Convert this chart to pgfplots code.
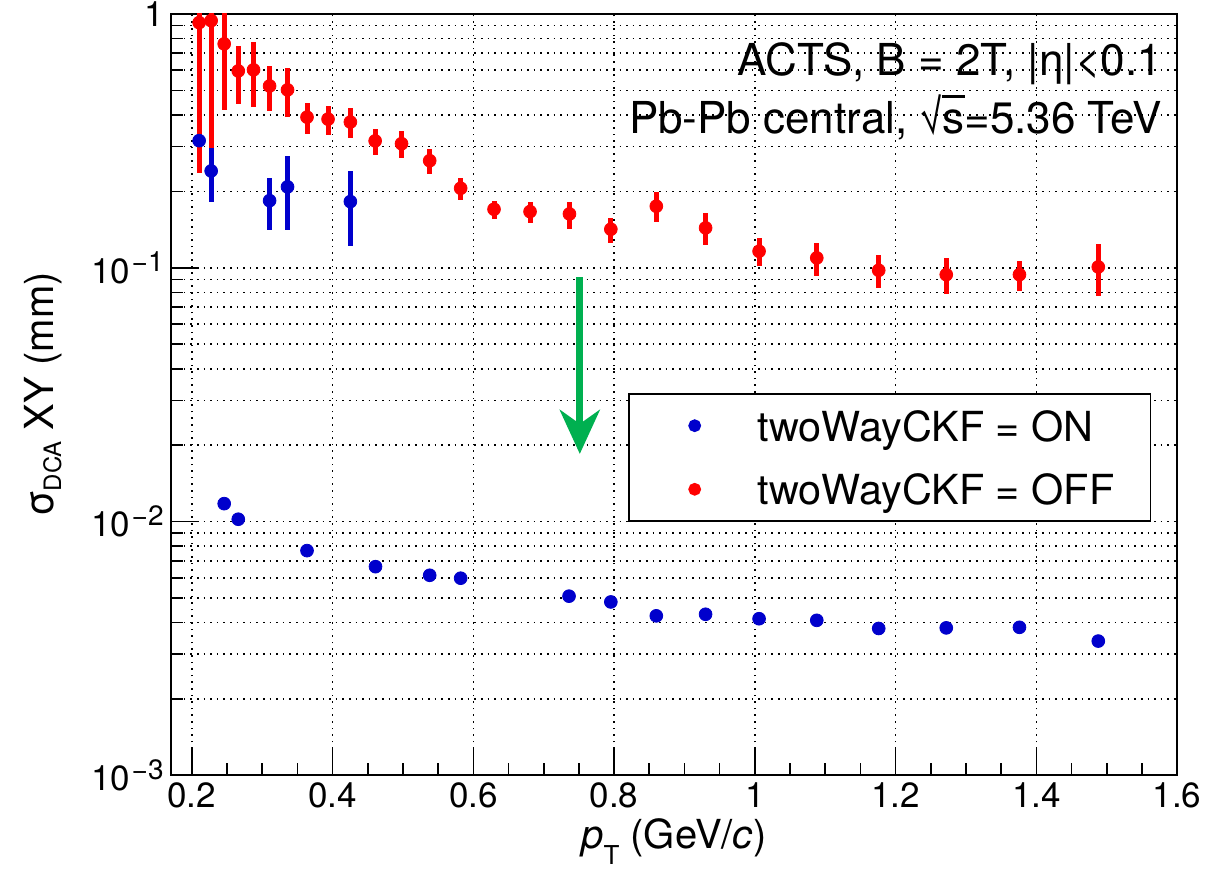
\documentclass[border=0pt]{standalone}
\usepackage{fontspec}
\setmainfont{TeX Gyre Heros}
\usepackage{pgfplots}
\usepackage{pgfplotstable}
\pgfplotsset{compat=1.18}
\usetikzlibrary{arrows.meta}
\definecolor{rootred}{RGB}{255,0,0}
\definecolor{rootblue}{RGB}{0,0,204}
\definecolor{rootgreen}{RGB}{0,176,80}
\newcommand{\sups}[1]{\kern0.05em\raisebox{5.8pt}{\fontsize{14}{14}\selectfont −#1}}
\newcommand{\sqrts}{\setbox0\hbox{√}\copy0\kern-0.03em\rlap{\rule[\dimexpr\ht0-0.07em\relax]{0.52em}{0.07em}}s}

\pgfplotstableread{
x y ep em
0.2104 0.924 0.576 0.687
0.2275 0.941 0.559 0.644
0.2460 0.762 0.738 0.344
0.2660 0.596 0.154 0.154
0.2877 0.602 0.171 0.173
0.3105 0.520 0.106 0.104
0.3360 0.502 0.109 0.110
0.3637 0.392 0.055 0.055
0.3936 0.385 0.050 0.051
0.4253 0.375 0.051 0.051
0.4605 0.316 0.037 0.0385
0.4980 0.308 0.038 0.037
0.5380 0.264 0.0305 0.030
0.5820 0.2056 0.021 0.0206
0.6294 0.170 0.0138 0.015
0.6806 0.1664 0.0153 0.0166
0.7366 0.1629 0.0188 0.0211
0.7954 0.1418 0.0149 0.0162
0.8600 0.1747 0.0236 0.0236
0.9300 0.1435 0.0204 0.0205
1.0060 0.1161 0.0146 0.0145
1.0880 0.1093 0.0163 0.0165
1.1760 0.0977 0.0143 0.0142
1.2720 0.0939 0.0154 0.0148
1.3760 0.0939 0.0128 0.0127
1.4880 0.1007 0.0238 0.0235
}\offdata

\pgfplotstableread{
x y ep em
0.2104 0.3167 0 0
0.2275 0.2406 0.0564 0.0584
0.2460 0.01176 0 0
0.2660 0.01021 0 0
0.3105 0.1838 0.0415 0.0428
0.3360 0.2082 0.0683 0.0672
0.3637 0.00768 0 0
0.4253 0.1822 0.0584 0.0599
0.4610 0.00664 0 0
0.5380 0.00614 0 0
0.5820 0.00598 0 0
0.7360 0.00508 0 0
0.7954 0.00482 0 0
0.8600 0.00425 0 0
0.9300 0.00431 0 0
1.0060 0.00414 0 0
1.0880 0.00408 0 0
1.1760 0.00379 0 0
1.2720 0.00381 0 0
1.3760 0.00383 0 0
1.4880 0.00338 0 0
}\ondata

\begin{document}
\begin{tikzpicture}
\useasboundingbox (-85.35pt,-46.35pt) rectangle (521.65pt,387.65pt);
\begin{axis}[
  at={(0,0)}, anchor=south west,
  scale only axis, width=503.2pt, height=380.7pt,
  xmin=0.17, xmax=1.6, ymode=log, ymin=1e-3, ymax=1,
  xtick={0.2,0.4,0.6,0.8,1,1.2,1.4,1.6},
  minor x tick num=3,
  ytick={0.001,0.01,0.1,1},
  yticklabels={10\sups{3},10\sups{2},10\sups{1},1},
  minor ytick={0.002,0.003,0.004,0.005,0.006,0.007,0.008,0.009,0.02,0.03,0.04,0.05,0.06,0.07,0.08,0.09,0.2,0.3,0.4,0.5,0.6,0.7,0.8,0.9},
  tick pos=left, tick align=inside,
  major tick length=13pt, minor tick length=6pt,
  every tick/.append style={black, line width=0.8pt},
  axis line style={line width=1pt},
  xmajorgrids, ymajorgrids, yminorgrids,
  grid style={black, line width=0.8pt, dash pattern=on 0.8pt off 2.5pt},
  minor grid style={black, line width=0.8pt, dash pattern=on 0.8pt off 2.5pt},
  ticklabel style={font=\fontsize{17.5}{20}\selectfont},
  /pgf/number format/assume math mode=true,
  xlabel={\textit{p}\raisebox{-8pt}{\fontsize{13}{13}\selectfont T} (GeV/\textit{c})},
  ylabel={σ\raisebox{-4pt}{\fontsize{12}{12}\selectfont DCA} XY (mm)},
  label style={font=\fontsize{20}{24}\selectfont},
  x label style={at={(axis description cs:0.5,-0.0955)}, anchor=base},
  y label style={at={(axis description cs:-0.1167,0.5)}, anchor=base},
  legend style={
    at={(axis description cs:0.4543,0.502)}, anchor=north west,
    draw=black, line width=0.8pt, fill=white,
    inner sep=0pt, row sep=0pt, column sep=0pt,
    font=\fontsize{20.7}{24}\selectfont,
    nodes={inner sep=0pt, text depth=0pt, anchor=west},
  },
  legend cell align=left,
  legend image code/.code={\path[draw=none,fill=none] (0pt,-15.9pt) rectangle (64.6pt,15.9pt); \fill (33pt,0pt) circle (2.8pt);},
  reverse legend,
]
\addplot[only marks, mark=*, mark size=3.2pt, color=rootred,
  error bars/.cd, y dir=both, y explicit, error mark=none,
  error bar style={line width=2.5pt, rootred}]
  table[x=x, y=y, y error plus=ep, y error minus=em] {\offdata};
\addlegendentry{twoWayCKF = OFF\hspace*{18pt}}
\addplot[only marks, mark=*, mark size=3.2pt, color=rootblue,
  error bars/.cd, y dir=both, y explicit, error mark=none,
  error bar style={line width=2.5pt, rootblue}]
  table[x=x, y=y, y error plus=ep, y error minus=em] {\ondata};
\addlegendentry{twoWayCKF = ON}
\draw[rootgreen, line width=3.5pt, -{Stealth[length=22pt, width=20pt, inset=7pt]}] (axis cs:0.7513,0.0918) -- (axis cs:0.7513,0.01847);
\node[anchor=base east, inner sep=0pt, font=\fontsize{22}{25}\selectfont] at (axis description cs:0.9854,0.919) {ACTS, B = 2T, |η|<0.1};
\node[anchor=base east, inner sep=0pt, font=\fontsize{22}{25}\selectfont] at (axis description cs:0.9854,0.8423) {Pb-Pb central, \sqrts=5.36 TeV};
\end{axis}
\end{tikzpicture}
\end{document}
